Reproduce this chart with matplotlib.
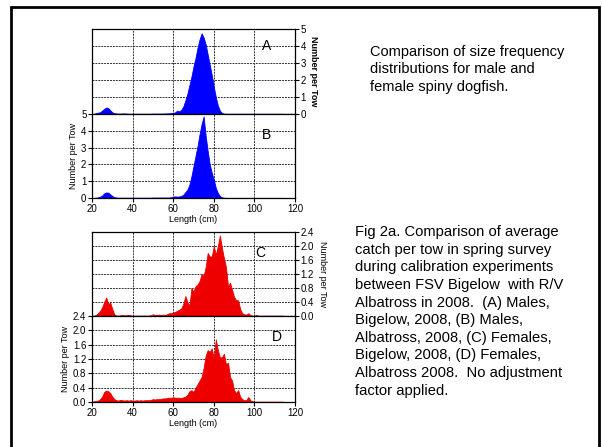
import numpy as np
import matplotlib.pyplot as plt
from matplotlib.patches import Rectangle

plt.rcParams['font.family'] = ['Liberation Sans', 'DejaVu Sans']

# length bins (cm)
lengths = np.arange(20, 115)

# number per tow, 20..114 cm
males_bigelow = [0, 0.01, 0.05, 0.08, 0.1, 0.2, 0.3, 0.38, 0.35, 0.22,
                 0.1, 0.04, 0.03, 0.02, 0.02, 0.03, 0.03, 0.02, 0.01, 0.01,
                 0.01, 0.01, 0.01, 0.01, 0.01, 0.01, 0.01, 0.01, 0.01, 0.01,
                 0.02, 0.02, 0.02, 0.02, 0.02, 0.02, 0.03, 0.03, 0.04, 0.05,
                 0.06, 0.1, 0.2, 0.15, 0.25, 0.45, 0.8, 1.2, 1.7, 2.2,
                 2.8, 3.3, 3.9, 4.4, 4.75, 4.5, 4.1, 3.5, 2.9, 2.3,
                 1.6, 1.0, 0.5, 0.2, 0.06, 0.02, 0.01, 0.01, 0.01, 0.01,
                 0.01, 0.01, 0.01, 0.01, 0.01, 0.01, 0.01, 0.01, 0.01, 0.01,
                 0.01, 0.01, 0.01, 0.01, 0.01, 0.01, 0.01, 0.01, 0.01, 0.01,
                 0.01, 0.01, 0.01, 0.01, 0.01]
males_albatross = [0, 0.01, 0.02, 0.04, 0.08, 0.15, 0.28, 0.33, 0.32, 0.22,
                   0.12, 0.05, 0.03, 0.02, 0.02, 0.02, 0.02, 0.02, 0.02, 0.02,
                   0.02, 0.02, 0.02, 0.02, 0.02, 0.02, 0.02, 0.02, 0.02, 0.02,
                   0.03, 0.03, 0.03, 0.03, 0.03, 0.03, 0.03, 0.03, 0.03, 0.05,
                   0.08, 0.1, 0.08, 0.1, 0.12, 0.2, 0.35, 0.5, 0.8, 1.3,
                   1.9, 2.5, 3.1, 3.8, 4.4, 4.85, 3.7, 2.8, 2.0, 1.5,
                   1.1, 0.6, 0.3, 0.12, 0.04, 0.02, 0.01, 0.01, 0.01, 0.01,
                   0.01, 0.01, 0.01, 0.01, 0.01, 0.01, 0.01, 0.01, 0.01, 0.01,
                   0.01, 0.01, 0.01, 0.01, 0.01, 0.01, 0.01, 0.01, 0.01, 0.01,
                   0.01, 0.01, 0.01, 0.01, 0.01]
females_bigelow = [0, 0.01, 0.03, 0.08, 0.15, 0.25, 0.4, 0.53, 0.35, 0.38,
                   0.2, 0.05, 0.01, 0.01, 0.02, 0.03, 0.02, 0.02, 0.03, 0.02,
                   0.01, 0.01, 0.01, 0.01, 0.01, 0.01, 0.01, 0.01, 0.01, 0.02,
                   0.05, 0.03, 0.03, 0.04, 0.03, 0.04, 0.03, 0.05, 0.08, 0.08,
                   0.1, 0.12, 0.15, 0.18, 0.22, 0.35, 0.57, 0.4, 0.3, 0.8,
                   0.7, 0.85, 0.9, 1.0, 1.2, 1.15, 1.4, 1.8, 1.7, 1.7,
                   2.0, 1.75, 2.0, 2.3, 1.95, 1.65, 1.4, 0.85, 0.95, 0.75,
                   0.55, 0.45, 0.45, 0.2, 0.08, 0.05, 0.04, 0.08, 0.03, 0.01,
                   0.01, 0.03, 0.01, 0.01, 0.01, 0.01, 0.01, 0.01, 0.01, 0.01,
                   0.01, 0.01, 0.01, 0.01, 0.01]
females_albatross = [0, 0.02, 0.03, 0.04, 0.08, 0.15, 0.28, 0.32, 0.3, 0.25,
                     0.15, 0.08, 0.05, 0.04, 0.06, 0.05, 0.04, 0.05, 0.04, 0.05,
                     0.04, 0.04, 0.05, 0.04, 0.05, 0.04, 0.05, 0.05, 0.05, 0.06,
                     0.08, 0.07, 0.08, 0.08, 0.09, 0.1, 0.1, 0.11, 0.12, 0.12,
                     0.13, 0.12, 0.12, 0.12, 0.11, 0.13, 0.15, 0.2, 0.3, 0.33,
                     0.28, 0.4, 0.5, 0.6, 0.7, 0.95, 1.3, 1.45, 1.4, 1.5,
                     1.2, 1.75, 1.45, 1.25, 1.25, 1.35, 1.05, 1.1, 0.7, 0.6,
                     0.33, 0.25, 0.33, 0.15, 0.08, 0.05, 0.05, 0.14, 0.05, 0.02,
                     0.01, 0.01, 0.01, 0.01, 0.01, 0.01, 0.01, 0.01, 0.01, 0.01,
                     0.01, 0.01, 0.01, 0.01, 0.01]

x_ticks = [20, 40, 60, 80, 100, 120]
male_yticks = [0, 1, 2, 3, 4, 5]
female_yticks = [0.0, 0.4, 0.8, 1.2, 1.6, 2.0, 2.4]

fig = plt.figure(figsize=(6.02, 4.47), dpi=100)

# slide border
fig.patches.append(Rectangle((0.018, -0.05), 0.977, 1.034, transform=fig.transFigure,
                             fill=False, lw=2, edgecolor='black'))


def panel(rect, vals, color, yticks, ymax, letter, letter_xy, side, bottom):
    ax = fig.add_axes(rect)
    ax.set_axisbelow(True)
    ax.fill_between(lengths, vals, 0, color=color, lw=0.6)
    ax.set_xlim(20, 120)
    ax.set_ylim(0, ymax)
    ax.set_xticks(x_ticks)
    ax.set_yticks(yticks)
    ax.grid(True, color='#333333', linestyle=(0, (2, 1)), lw=0.7)
    ax.tick_params(direction='out', length=3, width=0.8, labelsize=7, pad=1)
    fmt = '{:.1f}' if ymax < 3 else '{:.0f}'
    ax.set_yticklabels([fmt.format(t) for t in yticks])
    if side == 'right':
        ax.yaxis.tick_right()
        ax.yaxis.set_label_position('right')
        ax.set_ylabel('Number per Tow', rotation=270, fontsize=6.5, labelpad=9,
                      fontweight='bold' if ymax > 3 else 'normal')
    else:
        ax.set_ylabel('Number per Tow', fontsize=6.5, labelpad=2)
    if bottom:
        ax.set_xlabel('Length (cm)', fontsize=6.5, labelpad=1)
    else:
        ax.set_xticklabels([])
    ax.text(letter_xy[0], letter_xy[1], letter, transform=ax.transAxes,
            fontsize=10, ha='center', va='center')
    for s in ax.spines.values():
        s.set_linewidth(0.9)
    return ax


panel([0.1528, 0.745, 0.3372, 0.190], males_bigelow, '#0000ff', male_yticks, 5,
      'A', (0.86, 0.80), 'right', False)
panel([0.1528, 0.557, 0.3372, 0.188], males_albatross, '#0000ff', male_yticks, 5,
      'B', (0.86, 0.75), 'left', True)
panel([0.1528, 0.293, 0.3372, 0.188], females_bigelow, '#ee0000', female_yticks, 2.4,
      'C', (0.83, 0.75), 'right', False)
panel([0.1528, 0.1007, 0.3372, 0.192], females_albatross, '#ee0000', female_yticks, 2.4,
      'D', (0.91, 0.76), 'left', True)

fig.text(370 / 602, 1 - 45 / 447,
         'Comparison of size frequency\ndistributions for male and\nfemale spiny dogfish.',
         fontsize=10.5, va='top', ha='left', linespacing=1.3)
fig.text(355 / 602, 1 - 225 / 447,
         'Fig 2a. Comparison of average\ncatch per tow in spring survey\n'
         'during calibration experiments\nbetween FSV Bigelow  with R/V\n'
         'Albatross in 2008.  (A) Males,\nBigelow, 2008, (B) Males,\n'
         'Albatross, 2008, (C) Females,\nBigelow, 2008, (D) Females,\n'
         'Albatross 2008.  No adjustment\nfactor applied.',
         fontsize=10.6, va='top', ha='left', linespacing=1.33)

fig.savefig('out.png', dpi=100)
